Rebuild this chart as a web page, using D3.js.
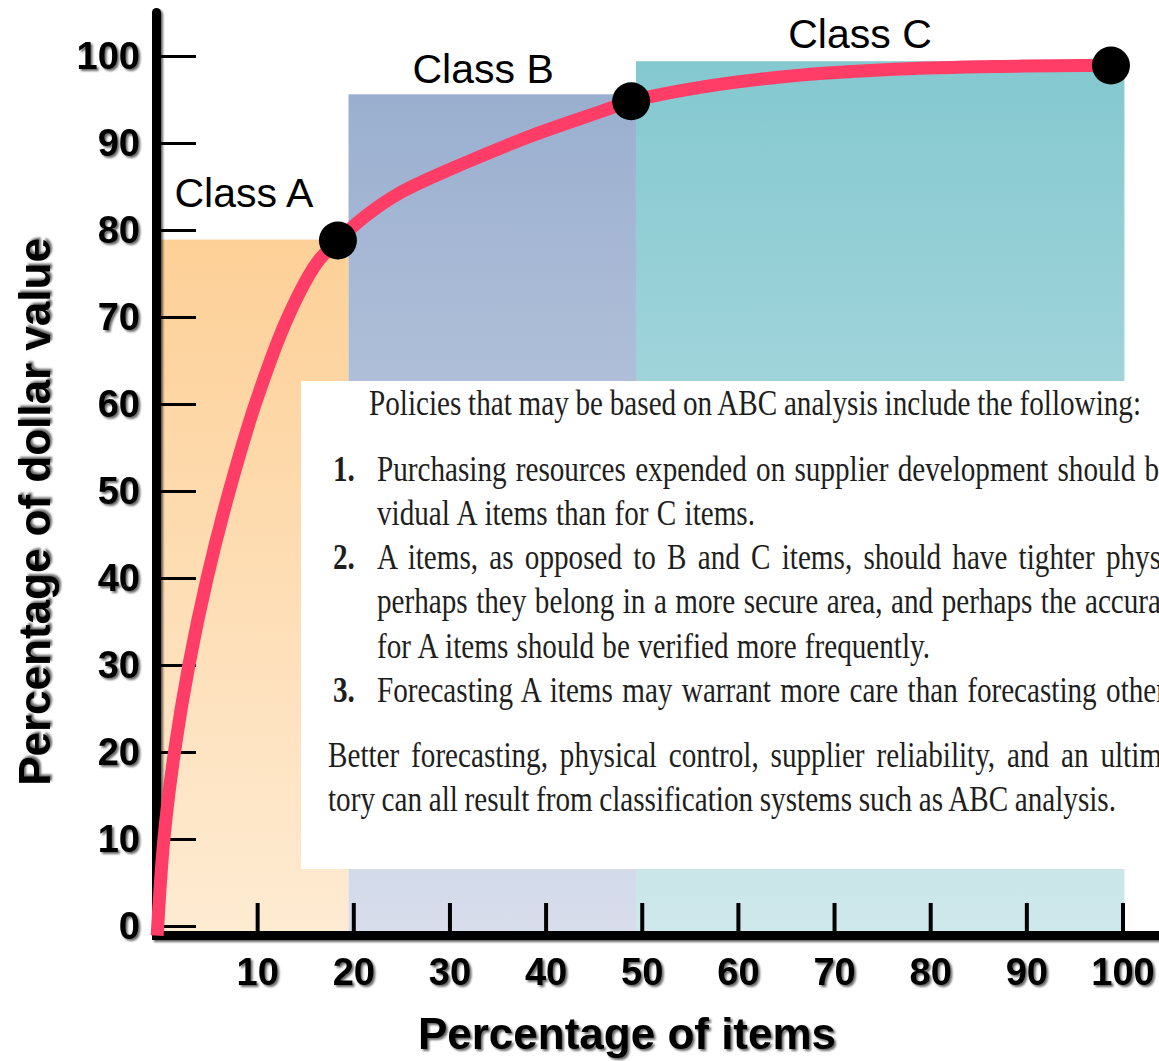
<!DOCTYPE html>
<html>
<head>
<meta charset="utf-8">
<script src="https://cdn.jsdelivr.net/npm/d3@7"></script>
<style>
  html, body { margin: 0; padding: 0; background: #fff; }
  svg { display: block; }
</style>
</head>
<body>
<svg id="chart" width="1159" height="1061"></svg>
<script>
// Cumulative ABC curve: share of items (x, %) against share of dollar value (y, %)
const itemsPct = [-0.4, 0.3, 1.4, 2.9, 4.8, 7.1, 9.8, 13.2, 16.2, 18.4, 21.5, 24.9, 31.8, 38.7, 45.7, 48.9, 56.1, 66.5, 76.9, 87.3, 95.9, 98.8];
const valuePct = [-1.1, 10, 20, 30, 40, 50, 60, 70, 76.2, 78.8, 81.8, 84.3, 87.8, 90.9, 93.6, 94.8, 96.4, 97.8, 98.5, 98.8, 98.9, 98.9];

// Class bands
const classNames = ['Class A', 'Class B', 'Class C'];
const classStart = [0, 19.5, 49.4];
const classEnd = [19.5, 49.4, 100.2];
const classTop = [78.9, 95.6, 99.4];
const classTopColors = ['#fdd097', '#9aafcf', '#84c8d0'];
const classBottomColors = ['#feebd2', '#d7ddeb', '#cfe8eb'];

// Class break points on the curve
const breakItems = [18.4, 48.9, 98.8];
const breakValues = [78.8, 94.8, 98.9];

// Axis ticks
const xTicks = [10, 20, 30, 40, 50, 60, 70, 80, 90, 100];
const yTicks = [0, 10, 20, 30, 40, 50, 60, 70, 80, 90, 100];

// Policy notes (the panel runs off the right edge of the figure)
const introLine = 'Policies that may be based on ABC analysis include the following:';
const policyNumbers = ['1.', '2.', '3.'];
const policyLines = [
  ['Purchasing resources expended on supplier development should be',
   'vidual A items than for C items.'],
  ['A items, as opposed to B and C items, should have tighter phys',
   'perhaps they belong in a more secure area, and perhaps the accura',
   'for A items should be verified more frequently.'],
  ['Forecasting A items may warrant more care than forecasting other']
];
const closingLines = [
  'Better forecasting, physical control, supplier reliability, and an ultim',
  'tory can all result from classification systems such as ABC analysis.'
];

// ---- layout ----
const W = 1159, H = 1061;
const x = d3.scaleLinear().domain([0, 100]).range([161, 1122.5]);
const y = d3.scaleLinear().domain([0, 100]).range([926, 56]);
const axisLineY = 935.5;      // centre of the thick x-axis bar
const axisW = 9;
const bandBottom = axisLineY - axisW / 2;
const labelAnchorX = [8.63, 33.5, 72.7];
const labelAnchorY = [82.68, 96.93, 100.89];
// right-hand end (px) of each typeset line, for justification
const introEnd = 1141;
const policyEnds = [[1172, 755], [1161, 1161, 930], [1166]];
const closingEnds = [1162, 1116];

const sans = "'Liberation Sans', Arial, Helvetica, sans-serif";
const serif = "'Liberation Serif', 'Times New Roman', Times, serif";

const svg = d3.select('#chart');
const defs = svg.append('defs');

const shadow = defs.append('filter').attr('id', 'shadow')
  .attr('x', '-10%').attr('y', '-20%').attr('width', '130%').attr('height', '150%');
shadow.append('feGaussianBlur').attr('in', 'SourceAlpha').attr('stdDeviation', 1.2);
shadow.append('feOffset').attr('dx', 2).attr('dy', 2);
shadow.append('feComponentTransfer').append('feFuncA').attr('type', 'linear').attr('slope', 0.6);
const merge = shadow.append('feMerge');
merge.append('feMergeNode');
merge.append('feMergeNode').attr('in', 'SourceGraphic');

classNames.forEach((c, i) => {
  const g = defs.append('linearGradient').attr('id', 'band' + i)
    .attr('x1', 0).attr('y1', 0).attr('x2', 0).attr('y2', 1);
  g.append('stop').attr('offset', '0%').attr('stop-color', classTopColors[i]);
  g.append('stop').attr('offset', '100%').attr('stop-color', classBottomColors[i]);
});

// ---- class bands ----
svg.append('g').selectAll('rect').data(classNames).join('rect')
  .attr('x', (d, i) => x(classStart[i]))
  .attr('y', (d, i) => y(classTop[i]))
  .attr('width', (d, i) => x(classEnd[i]) - x(classStart[i]))
  .attr('height', (d, i) => bandBottom - y(classTop[i]))
  .attr('fill', (d, i) => `url(#band${i})`);

// ---- class labels ----
svg.append('g').selectAll('text').data(classNames).join('text')
  .attr('x', (d, i) => x(labelAnchorX[i]))
  .attr('y', (d, i) => y(labelAnchorY[i]))
  .attr('text-anchor', 'middle')
  .attr('font-family', sans).attr('font-size', 41).attr('fill', '#000')
  .text(d => d);

// ---- notes panel ----
const note = svg.append('g');
note.append('rect').attr('x', 301).attr('y', 381).attr('width', W - 301).attr('height', 488).attr('fill', '#fff');
const noteFont = 36, noteScale = 0.81, lineStep = 44.2;
function noteText(str, px, py, bold, endPx) {
  const t = note.append('text')
    .attr('transform', `translate(${px},${py}) scale(${noteScale},1)`)
    .attr('font-family', serif).attr('font-size', noteFont)
    .attr('font-weight', bold ? 'bold' : 'normal')
    .attr('fill', '#1e1e1e')
    .text(str);
  if (endPx) {
    // spread the words so the line ends where the typeset column does
    const natural = t.node().getComputedTextLength();
    const target = (endPx - px) / noteScale;
    const gaps = (str.match(/ /g) || []).length;
    if (gaps) t.style('word-spacing', ((target - natural) / gaps) + 'px');
  }
}
noteText(introLine, 369, 415, false, introEnd);
let lineY = 480.7;
policyLines.forEach((lines, i) => {
  noteText(policyNumbers[i], 333, lineY, true);
  lines.forEach((l, j) => { noteText(l, 377, lineY, false, policyEnds[i][j]); lineY += lineStep; });
});
noteText(closingLines[0], 328, 767, false, closingEnds[0]);
noteText(closingLines[1], 328, 811, false, closingEnds[1]);

// ---- axes ----
const yAxis = d3.axisLeft(y).tickValues(yTicks).tickSizeInner(-35).tickSizeOuter(0).tickPadding(21);
const gy = svg.append('g').attr('transform', `translate(${x(0)},0)`).call(yAxis);
gy.select('.domain').remove();
gy.selectAll('.tick line').attr('stroke', '#000').attr('stroke-width', 3);
gy.selectAll('.tick text')
  .attr('font-family', sans).attr('font-size', 38).attr('font-weight', 'bold')
  .attr('fill', '#000').attr('filter', 'url(#shadow)');

const xAxis = d3.axisBottom(x).tickValues(xTicks).tickSizeInner(-28).tickSizeOuter(0).tickPadding(27);
const gx = svg.append('g').attr('transform', `translate(0,${bandBottom})`).call(xAxis);
gx.select('.domain').remove();
gx.selectAll('.tick line').attr('stroke', '#000').attr('stroke-width', 4);
gx.selectAll('.tick text')
  .attr('font-family', sans).attr('font-size', 38).attr('font-weight', 'bold')
  .attr('fill', '#000').attr('filter', 'url(#shadow)');

// thick axis bars
const bars = svg.append('g').attr('filter', 'url(#shadow)');
bars.append('line')
  .attr('x1', x(0) - axisW / 2).attr('x2', x(0) - axisW / 2)
  .attr('y1', axisLineY).attr('y2', 12.5)
  .attr('stroke', '#000').attr('stroke-width', axisW).attr('stroke-linecap', 'round');
bars.append('line')
  .attr('x1', x(0) - axisW).attr('x2', W)
  .attr('y1', axisLineY).attr('y2', axisLineY)
  .attr('stroke', '#000').attr('stroke-width', axisW);

// axis titles
svg.append('text')
  .attr('x', 627).attr('y', 1049).attr('text-anchor', 'middle')
  .attr('font-family', sans).attr('font-size', 44).attr('font-weight', 'bold')
  .attr('fill', '#000').attr('filter', 'url(#shadow)')
  .text('Percentage of items');
svg.append('text')
  .attr('transform', 'translate(50,512) rotate(-90)').attr('text-anchor', 'middle')
  .attr('font-family', sans).attr('font-size', 44).attr('font-weight', 'bold')
  .attr('fill', '#000').attr('filter', 'url(#shadow)')
  .text('Percentage of dollar value');

// ---- curve ----
const line = d3.line()
  .x((d, i) => x(itemsPct[i]))
  .y((d, i) => y(valuePct[i]))
  .curve(d3.curveCatmullRom.alpha(0.5));
svg.append('path')
  .attr('d', line(itemsPct))
  .attr('fill', 'none').attr('stroke', '#ff3d67').attr('stroke-width', 13);

// ---- class break points ----
svg.append('g').selectAll('circle').data(breakItems).join('circle')
  .attr('cx', (d, i) => x(breakItems[i]))
  .attr('cy', (d, i) => y(breakValues[i]))
  .attr('r', 19).attr('fill', '#000');
</script>
</body>
</html>
